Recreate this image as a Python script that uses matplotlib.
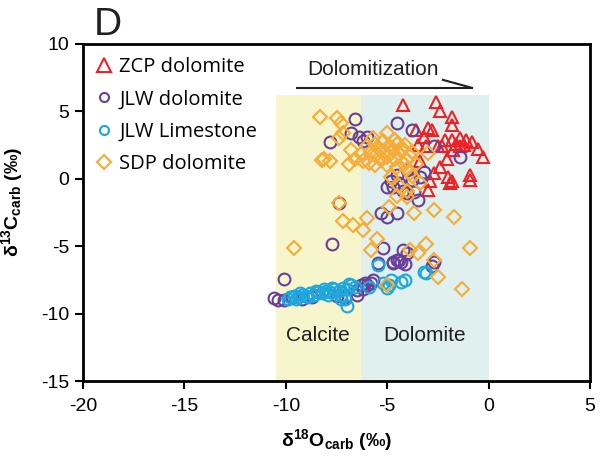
import matplotlib
matplotlib.use("Agg")
import matplotlib.pyplot as plt

plt.rcParams['font.family'] = ['Liberation Sans', 'DejaVu Sans']
plt.rcParams['mathtext.fontset'] = 'custom'
plt.rcParams['mathtext.rm'] = 'Liberation Sans'
plt.rcParams['mathtext.bf'] = 'Liberation Sans:bold'

# ZCP dolomite (red triangles)
zcp_x = [-4.2, -2.6, -2.4, -1.8, -1.8, -3.6, -3.0, -2.8, -3.2, -3.5, -2.15, -1.8, -1.4, -1.1,
         -0.8, -0.3, -0.9, -2.05, -2.4, -2.7, -2.0, -1.8, -3.0, -2.9, -1.4, -2.3, -1.75, -3.1,
         -1.9, -0.9, -1.6, -1.2, -2.5, -3.4, -0.5]
zcp_y = [5.5, 5.7, 5.0, 4.6, 4.0, 3.6, 3.8, 3.6, 3.1, 2.5, 2.9, 2.9, 3.0, 2.9,
         2.7, 1.6, 0.3, 1.5, 0.9, 0.4, 0.1, -0.2, -0.8, -0.2, 2.4, 2.4, 2.1, 2.4,
         -0.3, -0.1, 2.6, 2.5, 2.4, 1.3, 2.2]

# JLW dolomite (purple circles)
jlwd_x = [-6.6, -4.5, -7.8, -6.8, -6.4, -6.0, -6.2, -3.8, -1.4, -2.7, -4.5, -4.0, -5.0, -4.7,
          -4.4, -3.8, -3.2, -3.7, -4.0, -3.5, -4.2, -4.8, -3.4,
          -7.4, -7.7, -5.3, -5.0, -4.5,
          -4.2, -4.5, -4.7, -4.3, -4.0, -2.7, -2.8, -5.2, -5.45, -4.7, -4.4, -4.1,
          -6.1, -6.0, -6.5, -10.1, -10.6, -10.4, -10.1, -9.7, -9.2, -7.1, -6.5, -6.2,
          -5.8, -5.7, -6.3, -7.5, -8.7]
jlwd_y = [4.4, 4.1, 2.7, 3.4, 3.1, 3.1, 2.8, 3.6, 1.6, 2.4, 0.3, 0.65, -0.6, -0.6,
          -0.3, -0.1, 0.5, -1.0, -1.05, -1.6, -0.9, -0.2, 0.1,
          -1.8, -4.8, -2.5, -2.8, -2.5,
          -5.3, -6.0, -6.25, -6.2, -5.5, -6.2, -6.5, -5.1, -6.25, -6.15, -6.0, -6.3,
          -7.7, -7.9, -8.25, -7.4, -8.85, -9.0, -9.0, -8.8, -8.9, -8.8, -8.6, -8.2,
          -7.7, -7.5, -7.9, -8.7, -8.8]

# JLW limestone (blue circles)
jlwl_x = [-9.8, -9.6, -9.4, -9.2, -9.0, -8.8, -8.6, -8.4, -8.2, -8.0, -7.8, -7.6, -7.4, -7.2,
          -7.0, -6.8, -6.6, -9.9, -9.5, -8.9, -8.5, -7.9, -7.3, -7.1, -7.0, -7.3, -6.9, -5.9,
          -5.45, -5.2, -4.8, -4.3, -4.1, -3.2, -3.1, -4.9, -5.0, -9.3, -8.1, -7.7]
jlwl_y = [-8.8, -8.7, -8.8, -8.6, -8.7, -8.5, -8.6, -8.4, -8.5, -8.3, -8.4, -8.2, -8.3, -8.1,
          -8.2, -7.9, -8.0, -8.9, -8.9, -8.8, -8.3, -8.6, -8.6, -8.9, -9.4, -8.9, -7.8, -8.0,
          -6.4, -7.7, -7.5, -7.65, -7.5, -6.9, -7.0, -7.9, -8.1, -8.5, -8.2, -8.1]

# SDP dolomite (orange diamonds)
sdp_x = [-8.3, -7.5, -7.3, -7.2, -8.1, -7.8, -8.2, -7.4, -6.8, -6.6, -6.2, -6.9, -5.7, -5.0,
         -4.6, -4.2, -3.0, -4.0, -4.8, -3.8, -3.9,
         -6.0, -5.8, -5.6, -5.5, -5.4, -5.3, -5.2, -5.1, -5.0, -4.9, -4.8, -4.7, -4.6, -4.5,
         -4.4, -4.3, -4.2, -4.1, -3.9, -3.8, -5.9, -5.6, -6.3, -5.0, -4.5, -4.0, -3.6,
         -7.4, -7.2, -6.7, -6.2, -6.0, -5.5, -5.8, -4.9, -9.6, -4.5, -4.0, -3.7, -2.7, -1.7,
         -4.0, -3.1, -3.9, -3.5, -2.7, -2.5, -0.9, -1.3, -5.0, -4.4, -3.4]
sdp_y = [4.6, 4.5, 4.1, 3.4, 1.5, 1.3, 1.4, 3.0, 2.1, 1.5, 1.3, 1.1, 3.0, 3.4,
         2.9, 2.2, 1.9, 0.7, 0.1, 0.2, 0.4,
         2.4, 2.0, 2.6, 1.8, 2.2, 1.4, 2.8, 2.0, 1.6, 2.4, 1.9, 2.2, 1.5, 2.6,
         1.8, 2.1, 1.2, 2.5, 1.7, 2.0, 1.2, 1.0, 1.8, 1.0, 0.9, 1.4, 1.1,
         -1.8, -3.1, -3.4, -3.8, -2.9, -4.5, -5.3, -2.1, -5.1, -1.3, -1.35, -2.5, -2.3, -2.8,
         -0.9, -4.8, -5.3, -5.5, -6.0, -7.3, -5.1, -8.2, -7.9, -0.5, -0.3]

labels = ['ZCP dolomite', 'JLW dolomite', 'JLW Limestone', 'SDP dolomite']

fig = plt.figure(figsize=(6.02, 4.57), dpi=100)
ax = fig.add_axes([0.138, 0.166, 0.842, 0.738])

# calcite / dolomite fields
ax.fill_between([-10.5, -6.3], -15, 6.2, color='#f7f5cc', lw=0, zorder=0)
ax.fill_between([-6.3, 0], -15, 6.2, color='#e0f0ef', lw=0, zorder=0)
ax.text(-8.4, -11.6, 'Calcite', ha='center', va='center', fontsize=15, color='#231f20')
ax.text(-3.15, -11.6, 'Dolomite', ha='center', va='center', fontsize=15, color='#231f20')

ms = 8.5
ax.plot(zcp_x, zcp_y, '^', ms=9, mfc='none', mec='#ec2227', mew=1.5, ls='none',
        label=labels[0], zorder=2)
ax.plot(jlwd_x, jlwd_y, 'o', ms=ms, mfc='none', mec='#6a3f98', mew=1.5, ls='none',
        label=labels[1], zorder=3)
ax.plot(jlwl_x, jlwl_y, 'o', ms=ms, mfc='none', mec='#1ea7dd', mew=1.5, ls='none',
        label=labels[2], zorder=4)
ax.plot(sdp_x, sdp_y, 'D', ms=7, mfc='none', mec='#f6ac35', mew=1.5, ls='none',
        label=labels[3], zorder=5)

# dolomitization arrow
ax.plot([-9.45, -0.82], [6.74, 6.74], color='#231f20', lw=1.5)
ax.plot([-2.25, -0.82], [7.33, 6.74], color='#231f20', lw=1.5)
ax.text(-5.7, 8.1, 'Dolomitization', ha='center', va='center', fontsize=15, color='#231f20')

ax.set_xlim(-20, 5)
ax.set_ylim(-15, 10)
ax.set_xticks([-20, -15, -10, -5, 0, 5])
ax.set_yticks([-15, -10, -5, 0, 5, 10])
ax.set_xticklabels(['-20', '-15', '-10', '-5', '0', '5'])
ax.set_yticklabels(['-15', '-10', '-5', '0', '5', '10'])
ax.tick_params(labelsize=14, width=1.5, length=6, direction='out', pad=4)
ax.tick_params(axis='x', pad=6)
for sp in ax.spines.values():
    sp.set_linewidth(2)

ax.set_xlabel(r'$\mathbf{\delta^{18}O_{carb}}$ (‰)', fontsize=14, fontweight='bold')
ax.xaxis.set_label_coords(0.5, -0.135)
ax.set_ylabel(r'$\mathbf{\delta^{13}C_{carb}}$ (‰)', fontsize=14, fontweight='bold')
ax.yaxis.set_label_coords(-0.115, 0.53)

leg = ax.legend(loc='upper left', frameon=False, handlelength=0.8,
                handletextpad=0.35, labelspacing=0.62, borderaxespad=0.25,
                bbox_to_anchor=(0.0, 1.0),
                prop={'family': ['Open Sans', 'DejaVu Sans'], 'size': 14.5})
leg.legend_handles[0].set_markersize(10)
leg.legend_handles[1].set_markersize(6.5)
leg.legend_handles[2].set_markersize(6.5)
leg.legend_handles[3].set_markersize(7)

fig.text(0.155, 0.985, 'D', fontsize=28, va='top', ha='left', color='#231f20')

fig.savefig('out.png', dpi=100)
